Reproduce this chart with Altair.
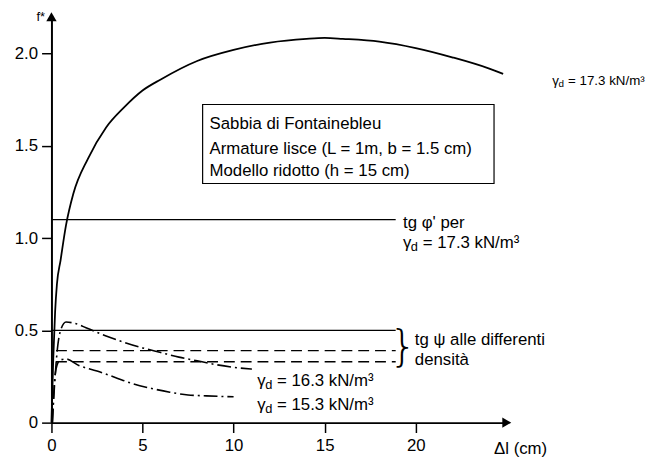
import altair as alt
import pandas as pd

FONT = "Liberation Sans"

# ---- data ----
# main curve, gamma_d = 17.3 kN/m3
dl_173 = [0, 0.1, 0.2, 0.3, 0.5, 0.8, 1.2, 2, 3, 4, 5, 6, 8, 10, 12, 14, 15, 16, 18, 20, 22, 24, 24.8]
f_173 = [0, 0.35, 0.6, 0.75, 0.88, 1.07, 1.24, 1.43, 1.6, 1.71, 1.8, 1.86, 1.96, 2.02, 2.06, 2.08, 2.085, 2.08, 2.065, 2.03, 1.98, 1.92, 1.89]

# gamma_d = 16.3 kN/m3
dl_163 = [0.05, 0.2, 0.35, 0.5, 0.8, 1.2, 2, 3, 4, 5, 6, 7, 8, 9, 10, 11]
f_163 = [0, 0.25, 0.42, 0.5, 0.545, 0.54, 0.51, 0.47, 0.435, 0.405, 0.38, 0.355, 0.335, 0.315, 0.3, 0.29]

# gamma_d = 15.3 kN/m3
dl_153 = [0.05, 0.15, 0.3, 0.5, 0.8, 1.5, 2.5, 3.5, 4.5, 5.5, 6.5, 7.5, 8.5, 10]
f_153 = [0, 0.2, 0.31, 0.34, 0.345, 0.31, 0.28, 0.245, 0.21, 0.185, 0.165, 0.15, 0.145, 0.14]

# horizontal reference levels
solid_levels = [1.1, 0.5]
solid_start = [0, 0]
dashed_levels = [0.39, 0.33]
dashed_start = [0.25, 0.25]
ref_end = 18.9

# axes
x_ticks = [0, 5, 10, 15, 20]
y_ticks = [0, 0.5, 1.0, 1.5, 2.0]
x_max = 25
y_max = 2.2

# annotation box
box_x = [8.3]
box_x2 = [24.3]
box_y = [1.296]
box_y2 = [1.724]
box_lines = ["Sabbia di Fontainebleu", "Armature lisce (L = 1m, b = 1.5 cm)", "Modello ridotto (h = 15 cm)"]
box_lines_x = [8.68, 8.68, 8.68]
box_lines_y = [1.617, 1.483, 1.365]

# gamma_d labels (the one at the curve end is set smaller)
gamma_x = [19.3, 11.3, 11.3]
gamma_y = [0.975, 0.225, 0.096]
gamma_rest = ["= 17.3 kN/m³", "= 16.3 kN/m³", "= 15.3 kN/m³"]
top_label_x = [27.5]
top_label_y = [1.85]
top_label_rest = ["= 17.3 kN/m³"]

# other texts
other_text = ["tg φ' per", "tg ψ alle differenti", "densità", "Δl (cm)"]
other_x = [19.3, 19.95, 19.95, 24.3]
other_y = [1.08, 0.445, 0.337, -0.145]

W, H = 461, 411
xs = alt.Scale(domain=[0, x_max], nice=False, zero=False)
ys = alt.Scale(domain=[0, y_max], nice=False, zero=False)

xaxis = alt.Axis(values=x_ticks, title=None, grid=False, domainColor="black", domainWidth=2,
                 tickColor="black", tickWidth=1.5, tickSize=10, labelFont=FONT, labelFontSize=17,
                 labelColor="black", labelPadding=5, labelFlush=False, labelOverlap=False, format="d")
yaxis = alt.Axis(values=y_ticks, title=None, grid=False, domainColor="black", domainWidth=2,
                 tickColor="black", tickWidth=1.5, tickSize=10, labelFont=FONT, labelFontSize=17,
                 labelColor="black", labelPadding=4, labelFlush=False, labelOverlap=False,
                 labelExpr="datum.value == 0 ? '0' : format(datum.value, '.1f')")


def X(f="x"):
    return alt.X(f"{f}:Q", scale=xs, axis=xaxis)


def Y(f="y"):
    return alt.Y(f"{f}:Q", scale=ys, axis=yaxis)


def curve(xv, yv, dash, width):
    df = pd.DataFrame({"x": xv, "y": yv, "o": range(len(xv))})
    kw = dict(color="black", strokeWidth=width, clip=False, interpolate="monotone")
    if dash:
        kw["strokeDash"] = dash
    return alt.Chart(df).mark_line(**kw).encode(x=X(), y=Y(), order="o:Q")


c173 = curve(dl_173, f_173, None, 1.8)
c163 = curve(dl_163, f_163, [14, 4, 2, 4], 1.6)
c153 = curve(dl_153, f_153, [14, 4, 2, 4], 1.6)

solid_df = pd.DataFrame({"x": solid_start, "x2": [ref_end] * len(solid_levels), "y": solid_levels})
dashed_df = pd.DataFrame({"x": dashed_start, "x2": [ref_end] * len(dashed_levels), "y": dashed_levels})
solid_rules = alt.Chart(solid_df).mark_rule(color="black", strokeWidth=1.4).encode(x=X(), x2="x2:Q", y=Y())
dashed_rules = alt.Chart(dashed_df).mark_rule(color="black", strokeWidth=1.4, strokeDash=[11, 6]).encode(
    x=X(), x2="x2:Q", y=Y())

box_df = pd.DataFrame({"x": box_x, "x2": box_x2, "y": box_y, "y2": box_y2})
box = alt.Chart(box_df).mark_rect(fill="white", stroke="black", strokeWidth=1.2).encode(
    x=X(), x2="x2:Q", y=Y(), y2="y2:Q")

box_txt_df = pd.DataFrame({"x": box_lines_x, "y": box_lines_y, "t": box_lines})
box_txt = alt.Chart(box_txt_df).mark_text(font=FONT, fontSize=17, align="left", baseline="middle",
                                          color="black").encode(x=X(), y=Y(), text="t:N")


def gamma_label(xv, yv, rest, size):
    df = pd.DataFrame({"x": xv, "y": yv, "r": rest, "g": ["γ"] * len(xv), "d": ["d"] * len(xv)})
    sub = round(size * 0.76)
    a = alt.Chart(df).mark_text(font=FONT, fontSize=size, align="left", baseline="middle",
                                color="black").encode(x=X(), y=Y(), text="g:N")
    b = alt.Chart(df).mark_text(font=FONT, fontSize=sub, align="left", baseline="middle",
                                dx=size * 0.47, dy=size * 0.24, color="black").encode(x=X(), y=Y(), text="d:N")
    c = alt.Chart(df).mark_text(font=FONT, fontSize=size, align="left", baseline="middle",
                                dx=size * 1.18, color="black").encode(x=X(), y=Y(), text="r:N")
    return [a, b, c]


g_main = gamma_label(gamma_x, gamma_y, gamma_rest, 17)
g_top = gamma_label(top_label_x, top_label_y, top_label_rest, 13.5)

o_df = pd.DataFrame({"x": other_x, "y": other_y, "t": other_text})
others = alt.Chart(o_df).mark_text(font=FONT, fontSize=17, align="left", baseline="middle",
                                   color="black").encode(x=X(), y=Y(), text="t:N")

brace_df = pd.DataFrame({"x": [19.3], "y": [0.405], "t": ["}"]})
brace = alt.Chart(brace_df).mark_text(font="DejaVu Sans", fontSize=44, fontWeight=200, align="center",
                                      baseline="middle", color="black").encode(x=X(), y=Y(), text="t:N")

fstar_df = pd.DataFrame({"x": [-0.35], "y": [2.2], "t": ["f*"]})
fstar = alt.Chart(fstar_df).mark_text(font=FONT, fontSize=13, align="right", baseline="middle",
                                      color="black").encode(x=X(), y=Y(), text="t:N")

arrow_df = pd.DataFrame({"x": [x_max, 0], "y": [0, y_max], "s": ["triangle-right", "triangle-up"]})
arrows = alt.Chart(arrow_df).mark_point(filled=True, color="black", size=110, opacity=1).encode(
    x=X(), y=Y(), shape=alt.Shape("s:N", scale=None))

chart = alt.layer(box, solid_rules, dashed_rules, c173, c163, c153, box_txt, *g_main, *g_top, others,
                  brace, fstar, arrows).properties(
    width=W, height=H,
    autosize=alt.AutoSizeParams(type="none"),
    padding={"left": 44, "top": 6, "right": 145, "bottom": 33},
    background="white",
).configure_view(strokeWidth=0)

chart.save("out.html", embed_options={"renderer": "svg", "actions": False})
